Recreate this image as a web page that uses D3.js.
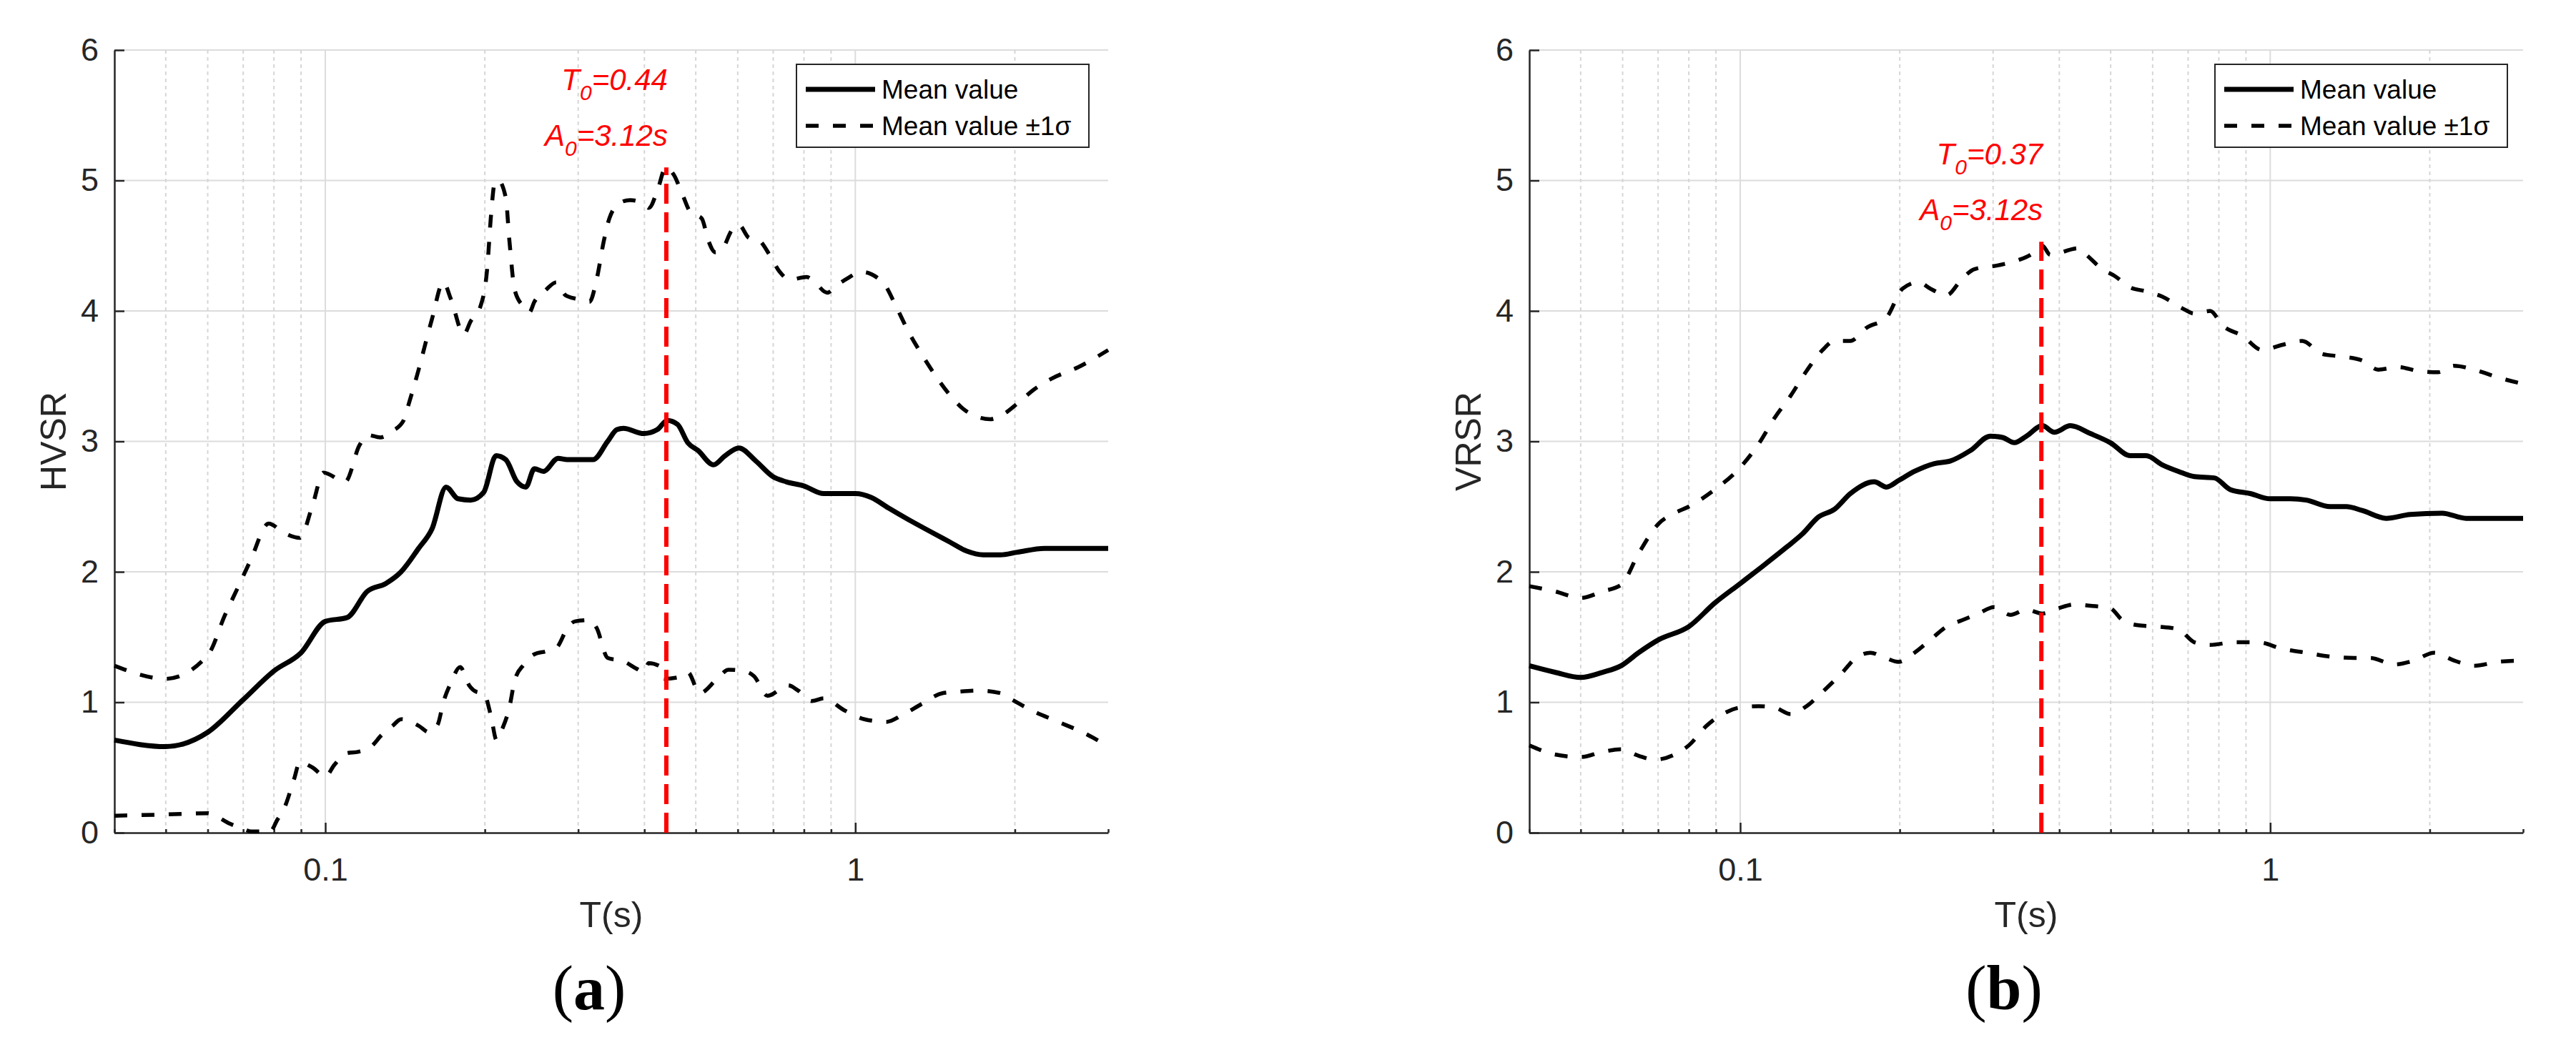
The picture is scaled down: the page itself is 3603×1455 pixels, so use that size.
<!DOCTYPE html>
<html>
<head>
<meta charset="utf-8">
<script src="https://cdn.jsdelivr.net/npm/d3@7"></script>
<style>
  body { margin: 0; background: #fff; }
  svg { display: block; font-family: "Liberation Sans", Arial, sans-serif; }
</style>
</head>
<body>
<svg id="chart" width="3603" height="1455"></svg>
<script>
// ---- data ----
// (a) HVSR
const hvsr_mean_t = [0.04,0.05,0.06,0.07,0.08,0.09,0.1,0.11,0.12,0.13,0.139,0.15,0.159,0.169,0.178,0.188,0.199,0.21,0.219,0.23,0.239,0.248,0.258,0.275,0.286,0.32,0.341,0.355,0.365,0.399,0.423,0.442,0.462,0.483,0.505,0.54,0.568,0.603,0.649,0.699,0.741,0.798,0.872,0.938,1.0,1.072,1.154,1.26,1.398,1.505,1.62,1.745,1.878,2.02,2.275,2.52,3.0];
const hvsr_mean   = [0.71,0.66,0.77,1.02,1.24,1.38,1.62,1.65,1.85,1.91,2.0,2.18,2.33,2.65,2.56,2.55,2.61,2.89,2.86,2.69,2.65,2.79,2.77,2.87,2.86,2.86,3.0,3.09,3.1,3.06,3.09,3.16,3.13,2.99,2.93,2.82,2.89,2.95,2.85,2.73,2.69,2.66,2.60,2.60,2.60,2.57,2.49,2.40,2.30,2.23,2.16,2.13,2.13,2.15,2.18,2.18,2.18];

const hvsr_upper_t = [0.04,0.05,0.06,0.0647,0.0684,0.0723,0.0782,0.0834,0.0895,0.0946,0.0992,0.109,0.116,0.12,0.127,0.134,0.1405,0.144,0.15,0.1545,0.159,0.167,0.1726,0.1825,0.188,0.196,0.202,0.2055,0.2087,0.212,0.219,0.2225,0.2277,0.237,0.2427,0.248,0.2605,0.273,0.284,0.3,0.315,0.325,0.3355,0.3436,0.36,0.376,0.399,0.408,0.423,0.439,0.455,0.469,0.49,0.513,0.528,0.544,0.56,0.585,0.603,0.63,0.658,0.689,0.72,0.752,0.81,0.834,0.885,0.925,0.967,1.025,1.104,1.137,1.189,1.26,1.338,1.419,1.505,1.597,1.694,1.797,1.906,2.022,2.177,2.344,2.637,3.0];
const hvsr_upper   = [1.28,1.18,1.36,1.67,1.88,2.09,2.37,2.30,2.26,2.51,2.76,2.69,2.97,3.05,3.03,3.08,3.16,3.3,3.55,3.75,3.94,4.22,4.09,3.82,3.92,4.03,4.32,4.74,4.98,5.0,4.87,4.54,4.16,4.03,3.99,4.07,4.16,4.22,4.12,4.09,4.07,4.24,4.54,4.71,4.83,4.85,4.82,4.79,4.92,5.1,5.04,4.92,4.75,4.71,4.54,4.45,4.47,4.62,4.66,4.56,4.54,4.43,4.3,4.24,4.26,4.23,4.14,4.2,4.25,4.3,4.25,4.2,4.05,3.84,3.66,3.5,3.36,3.25,3.19,3.17,3.21,3.29,3.4,3.48,3.57,3.7];

const hvsr_lower_t = [0.04,0.05,0.06,0.062,0.066,0.07,0.0725,0.0787,0.0812,0.0837,0.0873,0.0895,0.0946,0.1,0.104,0.11,0.1153,0.122,0.1278,0.134,0.139,0.15,0.157,0.163,0.167,0.1726,0.1796,0.1868,0.1929,0.199,0.2055,0.2104,0.2154,0.2225,0.2278,0.237,0.2485,0.2605,0.2732,0.2864,0.2957,0.315,0.325,0.341,0.365,0.387,0.399,0.4076,0.426,0.4355,0.462,0.483,0.5085,0.5516,0.5765,0.6164,0.644,0.683,0.7464,0.78,0.828,0.872,0.952,1.04,1.146,1.224,1.338,1.461,1.55,1.706,1.878,1.977,2.145,2.414,2.716,3.0];
const hvsr_lower   = [0.13,0.14,0.15,0.13,0.07,0.03,0.01,0.01,0.1,0.19,0.41,0.54,0.50,0.43,0.52,0.61,0.62,0.66,0.75,0.82,0.87,0.82,0.77,0.83,1.0,1.15,1.27,1.13,1.08,1.07,0.89,0.71,0.79,0.96,1.17,1.29,1.37,1.39,1.42,1.57,1.62,1.63,1.57,1.34,1.315,1.256,1.23,1.30,1.28,1.18,1.19,1.23,1.07,1.19,1.25,1.24,1.2,1.05,1.13,1.09,1.01,1.03,0.94,0.87,0.85,0.9,0.99,1.07,1.08,1.09,1.07,1.02,0.94,0.85,0.76,0.66];

// (b) VRSR
const vrsr_mean_t = [0.04,0.0447,0.05,0.055,0.0596,0.0643,0.0702,0.08,0.0895,0.1,0.11,0.1224,0.131,0.1405,0.1507,0.1614,0.179,0.1888,0.199,0.2132,0.2325,0.2493,0.2719,0.2965,0.3125,0.329,0.3467,0.3716,0.3915,0.4197,0.4577,0.4993,0.5445,0.5835,0.6257,0.6708,0.7192,0.7843,0.8407,0.917,1.0,1.091,1.169,1.297,1.391,1.491,1.655,1.837,2.11,2.342,2.691,3.0];
const vrsr_mean   = [1.28,1.23,1.19,1.23,1.28,1.38,1.48,1.58,1.76,1.91,2.04,2.19,2.29,2.42,2.48,2.60,2.69,2.65,2.70,2.77,2.83,2.85,2.93,3.04,3.03,2.99,3.04,3.12,3.07,3.12,3.06,2.99,2.89,2.89,2.82,2.77,2.73,2.72,2.63,2.60,2.56,2.56,2.55,2.50,2.50,2.47,2.41,2.44,2.45,2.41,2.41,2.41];

const vrsr_upper_t = [0.04,0.0447,0.05,0.055,0.0596,0.0643,0.0702,0.0752,0.08,0.0895,0.1,0.1083,0.1161,0.1245,0.1334,0.143,0.1507,0.1614,0.173,0.1888,0.2024,0.217,0.2286,0.245,0.2626,0.2766,0.307,0.3349,0.3528,0.3716,0.3846,0.4345,0.4498,0.4823,0.508,0.5445,0.5835,0.6257,0.6824,0.7192,0.7706,0.812,0.8855,0.9659,1.053,1.149,1.253,1.367,1.491,1.598,1.743,1.901,2.074,2.223,2.424,2.691,3.0];
const vrsr_upper   = [1.89,1.85,1.80,1.85,1.90,2.14,2.37,2.45,2.50,2.63,2.80,2.98,3.18,3.35,3.54,3.70,3.77,3.77,3.87,3.95,4.17,4.22,4.17,4.12,4.25,4.32,4.35,4.39,4.43,4.50,4.43,4.48,4.43,4.32,4.27,4.18,4.15,4.11,4.02,3.98,4.0,3.89,3.81,3.70,3.74,3.77,3.67,3.65,3.62,3.55,3.57,3.54,3.53,3.58,3.55,3.49,3.44];

const vrsr_lower_t = [0.04,0.0447,0.05,0.055,0.0596,0.0643,0.069,0.0752,0.08,0.0864,0.0927,0.1,0.1083,0.1161,0.1245,0.1334,0.143,0.156,0.1643,0.1761,0.1855,0.199,0.2132,0.2286,0.245,0.2626,0.2815,0.3017,0.3234,0.3467,0.3716,0.3984,0.427,0.4577,0.4993,0.526,0.5637,0.615,0.6708,0.7192,0.7706,0.8553,0.9493,1.053,1.169,1.297,1.44,1.544,1.713,1.868,2.038,2.223,2.424,2.691,3.0];
const vrsr_lower   = [0.67,0.60,0.58,0.62,0.64,0.59,0.56,0.60,0.67,0.82,0.91,0.96,0.97,0.96,0.91,0.97,1.08,1.23,1.33,1.38,1.35,1.31,1.38,1.48,1.58,1.63,1.68,1.73,1.67,1.71,1.68,1.72,1.75,1.74,1.72,1.63,1.59,1.58,1.56,1.46,1.44,1.46,1.46,1.41,1.38,1.35,1.34,1.34,1.29,1.32,1.38,1.32,1.28,1.31,1.32];

// peak period, amplitude label, and top of the red marker
const peak_t      = [0.44, 0.37];
const peak_top    = [5.1, 4.53];
const peak_t_text = ["0.44", "0.37"];
const peak_a_text = ["3.12s", "3.12s"];

const x_major = [0.1, 1];
const x_minor = [0.04,0.05,0.06,0.07,0.08,0.09,0.2,0.3,0.4,0.5,0.6,0.7,0.8,0.9,2,3];
const y_ticks = [0, 1, 2, 3, 4, 5, 6];
const legend_labels = ["Mean value", "Mean value \u00b11\u03c3"];

// ---- drawing ----
let svg = d3.select("#chart");

let panels = [
  { left: 160, right: 1550, top: 70, bottom: 1165, legend_x: 1114, y_label: "HVSR", tag: "a",
    mean: d3.zip(hvsr_mean_t, hvsr_mean), upper: d3.zip(hvsr_upper_t, hvsr_upper), lower: d3.zip(hvsr_lower_t, hvsr_lower) },
  { left: 2139, right: 3529, top: 70, bottom: 1165, legend_x: 3098, y_label: "VRSR", tag: "b",
    mean: d3.zip(vrsr_mean_t, vrsr_mean), upper: d3.zip(vrsr_upper_t, vrsr_upper), lower: d3.zip(vrsr_lower_t, vrsr_lower) }
];

function draw_panel(p, i) {
  let x = d3.scaleLog().domain([0.04, 3]).range([p.left, p.right]);
  let y = d3.scaleLinear().domain([0, 6]).range([p.bottom, p.top]);
  let g = svg.append("g");

  // grid
  g.append("g").selectAll("line")
    .data(y_ticks.slice(1))
    .join("line")
    .attr("x1", p.left).attr("x2", p.right)
    .attr("y1", d => y(d)).attr("y2", d => y(d))
    .attr("stroke", "#dcdcdc").attr("stroke-width", 2);
  g.append("g").selectAll("line")
    .data(x_major)
    .join("line")
    .attr("x1", d => x(d)).attr("x2", d => x(d))
    .attr("y1", p.top).attr("y2", p.bottom)
    .attr("stroke", "#dcdcdc").attr("stroke-width", 2);
  g.append("g").selectAll("line")
    .data(x_minor.filter(d => d > 0.04 && d < 3))
    .join("line")
    .attr("x1", d => x(d)).attr("x2", d => x(d))
    .attr("y1", p.top).attr("y2", p.bottom)
    .attr("stroke", "#d6d6d6").attr("stroke-width", 2)
    .attr("stroke-dasharray", "5,5");

  // axes
  g.append("g")
    .attr("transform", "translate(0," + p.bottom + ")")
    .call(d3.axisBottom(x).tickValues(x_minor).tickSize(-5).tickSizeOuter(0).tickFormat(""))
    .call(a => a.select(".domain").remove())
    .call(a => a.selectAll("line").attr("stroke", "#262626").attr("stroke-width", 2.5));

  g.append("g")
    .attr("transform", "translate(0," + p.bottom + ")")
    .call(d3.axisBottom(x).tickValues(x_major).tickSize(-14).tickSizeOuter(0).tickPadding(35).tickFormat(d3.format("~g")))
    .attr("font-family", "Liberation Sans, Arial, sans-serif")
    .attr("font-size", 45)
    .call(a => a.selectAll("line, path").attr("stroke", "#262626").attr("stroke-width", 2.5))
    .call(a => a.selectAll("text").attr("fill", "#262626"));

  g.append("g")
    .attr("transform", "translate(" + p.left + ",0)")
    .call(d3.axisLeft(y).tickValues(y_ticks).tickSize(-14).tickSizeOuter(0).tickPadding(22).tickFormat(d3.format("d")))
    .attr("font-family", "Liberation Sans, Arial, sans-serif")
    .attr("font-size", 45)
    .call(a => a.selectAll("line, path").attr("stroke", "#262626").attr("stroke-width", 2.5))
    .call(a => a.selectAll("text").attr("fill", "#262626"));

  // curves
  let line = d3.line()
    .x(d => x(d[0]))
    .y(d => y(d[1]))
    .curve(d3.curveMonotoneX);

  [p.upper, p.lower].forEach(series => {
    g.append("path")
      .datum(series)
      .attr("d", line)
      .attr("fill", "none")
      .attr("stroke", "#000")
      .attr("stroke-width", 5.5)
      .attr("stroke-dasharray", "18,20");
  });

  g.append("path")
    .datum(p.mean)
    .attr("d", line)
    .attr("fill", "none")
    .attr("stroke", "#000")
    .attr("stroke-width", 7)
    .attr("stroke-linejoin", "round");

  // peak marker
  let px = x(peak_t[i]);
  let py = y(peak_top[i]);
  g.append("line")
    .attr("x1", px).attr("x2", px)
    .attr("y1", y(0)).attr("y2", py)
    .attr("stroke", "#ff0000")
    .attr("stroke-width", 6)
    .attr("stroke-dasharray", "28,12");

  let note = [["T", "=" + peak_t_text[i], py - 108], ["A", "=" + peak_a_text[i], py - 30]];
  note.forEach(n => {
    let t = g.append("text")
      .attr("x", px + 2)
      .attr("y", n[2])
      .attr("text-anchor", "end")
      .attr("font-size", 42)
      .attr("font-style", "italic")
      .attr("fill", "#ff0000");
    t.append("tspan").text(n[0]);
    t.append("tspan").attr("font-size", 30).attr("dy", 14).text("0");
    t.append("tspan").attr("dy", -14).text(n[1]);
  });

  // legend
  let lg = g.append("g").attr("transform", "translate(" + p.legend_x + "," + (p.top + 20) + ")");
  lg.append("rect")
    .attr("width", 409).attr("height", 116)
    .attr("fill", "#fff")
    .attr("stroke", "#262626").attr("stroke-width", 2);
  legend_labels.forEach((label, k) => {
    let ly = 35 + k * 51;
    lg.append("line")
      .attr("x1", 13).attr("x2", 110)
      .attr("y1", ly).attr("y2", ly)
      .attr("stroke", "#000")
      .attr("stroke-width", k == 0 ? 7 : 5.5)
      .attr("stroke-dasharray", k == 0 ? null : "18,20");
    lg.append("text")
      .attr("x", 119).attr("y", ly)
      .attr("dy", "0.36em")
      .attr("font-size", 37)
      .attr("fill", "#000")
      .text(label);
  });

  // axis labels
  g.append("text")
    .attr("transform", "translate(" + (p.left - 68) + "," + ((p.top + p.bottom) / 2) + ") rotate(-90)")
    .attr("text-anchor", "middle")
    .attr("font-size", 50)
    .attr("fill", "#262626")
    .text(p.y_label);

  g.append("text")
    .attr("x", (p.left + p.right) / 2)
    .attr("y", 1297)
    .attr("text-anchor", "middle")
    .attr("font-size", 50)
    .attr("fill", "#262626")
    .text("T(s)");

  let tag = g.append("text")
    .attr("x", (p.left + p.right) / 2 - 31)
    .attr("y", 1412)
    .attr("text-anchor", "middle")
    .attr("font-family", "Liberation Serif, Times New Roman, serif")
    .attr("font-size", 88)
    .attr("fill", "#000");
  tag.append("tspan").text("(");
  tag.append("tspan").attr("font-weight", "bold").text(p.tag);
  tag.append("tspan").text(")");
}

panels.forEach(draw_panel);
</script>
</body>
</html>
